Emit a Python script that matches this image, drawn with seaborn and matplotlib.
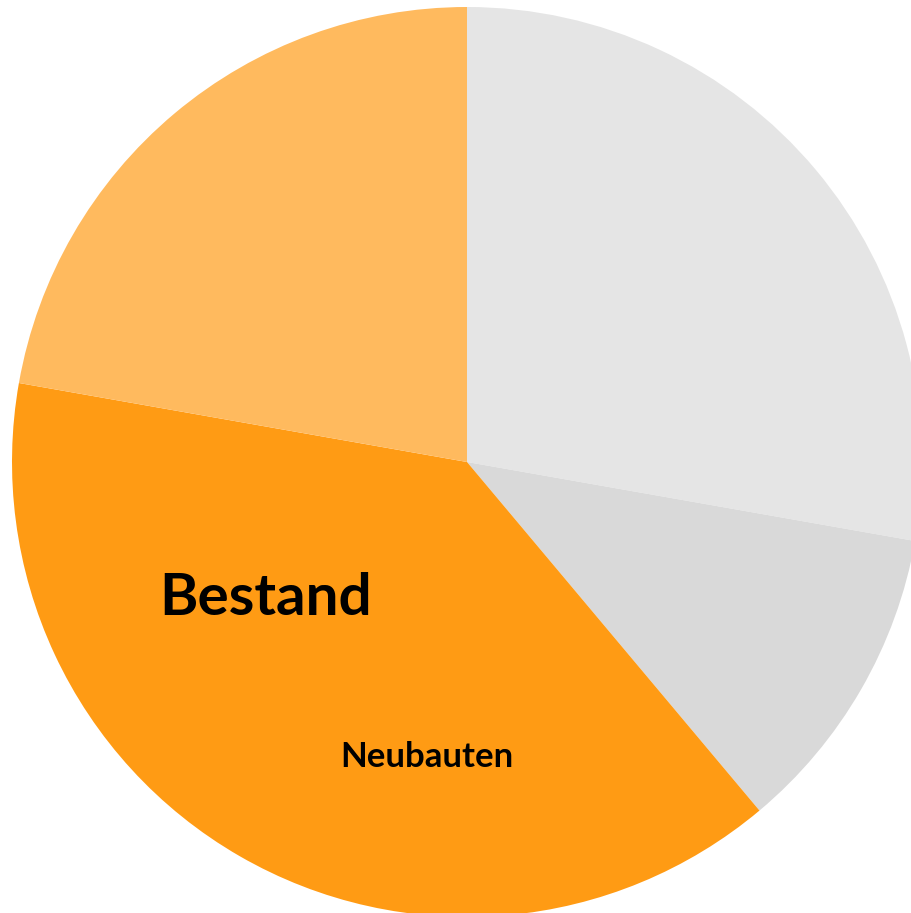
import matplotlib
matplotlib.use("Agg")
import matplotlib.pyplot as plt
import seaborn as sns

# Daten (Anteile im Uhrzeigersinn ab 12 Uhr)
segmente = ["Grau hell", "Grau", "Bestand", "Orange hell"]
werte = [25, 10, 35, 20]
farben = ["#E5E5E5", "#D9D9D9", "#FF9B14", "#FFBA5E"]

beschriftungen = ["Bestand", "Neubauten"]

sns.set_theme(style="white")
plt.rcParams["font.family"] = ["Lato", "DejaVu Sans"]

fig = plt.figure(figsize=(9.12, 9.13), dpi=100)
# Kreis etwas größer als die Fläche -> rechts/unten leicht angeschnitten
ax = fig.add_axes([12 / 912, -4 / 913, 910 / 912, 910 / 913])

ax.pie(werte, colors=farben, startangle=90, counterclock=False,
       radius=1, wedgeprops={"linewidth": 0})
ax.set_xlim(-1, 1)
ax.set_ylim(-1, 1)
ax.set_aspect("equal")
ax.axis("off")

ax.text(-0.442, -0.336, beschriftungen[0], fontsize=42, fontweight="bold",
        ha="center", va="baseline", color="black")
ax.text(-0.088, -0.670, beschriftungen[1], fontsize=25, fontweight="bold",
        ha="center", va="baseline", color="black")

plt.savefig("out.png", dpi=100)
